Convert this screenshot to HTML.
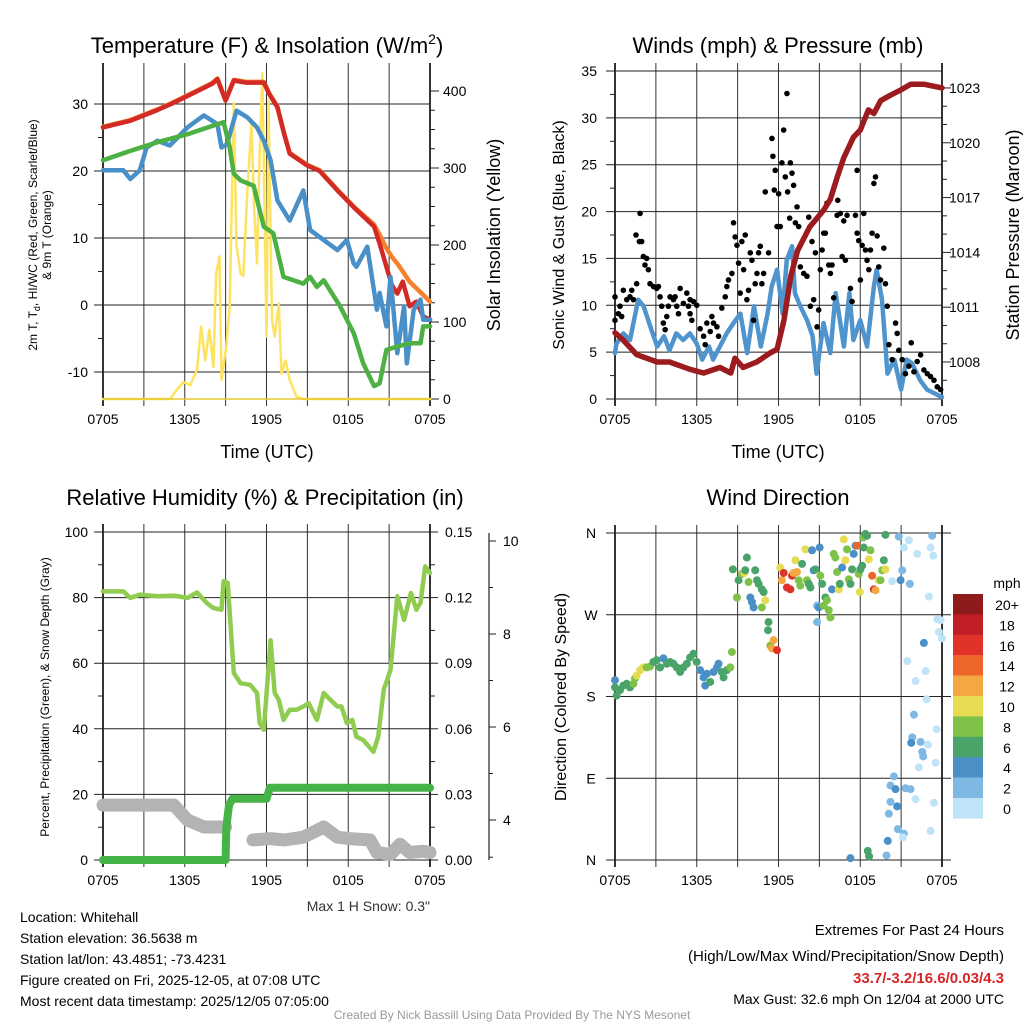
<!DOCTYPE html>
<html><head><meta charset="utf-8"><style>
body{margin:0;background:#fff}
svg{display:block;font-family:"Liberation Sans",sans-serif}
</style></head><body>
<svg id="s" width="1024" height="1024" viewBox="0 0 1024 1024" xmlns="http://www.w3.org/2000/svg">
<rect width="1024" height="1024" fill="#fff"/>
<text x="267" y="53" font-size="22" text-anchor="middle">Temperature (F) &amp; Insolation (W/m<tspan dy="-9" font-size="14">2</tspan><tspan dy="9">)</tspan></text>
<text x="778" y="53" font-size="22" text-anchor="middle">Winds (mph) &amp; Pressure (mb)</text>
<text x="265" y="505" font-size="22" text-anchor="middle">Relative Humidity (%) &amp; Precipitation (in)</text>
<text x="778" y="505" font-size="22" text-anchor="middle">Wind Direction</text>
<text x="267" y="458" font-size="18" text-anchor="middle">Time (UTC)</text>
<text x="778" y="458" font-size="18" text-anchor="middle">Time (UTC)</text>
<text transform="translate(37,235) rotate(-90)" font-size="12" text-anchor="middle">2m T, T<tspan dy="3" font-size="9">d</tspan><tspan dy="-3">, HI/WC (Red, Green, Scarlet/Blue)</tspan></text>
<text transform="translate(51,235) rotate(-90)" font-size="12" text-anchor="middle">&amp; 9m T (Orange)</text>
<text transform="translate(500,235) rotate(-90)" font-size="18" text-anchor="middle">Solar Insolation (Yellow)</text>
<text transform="translate(564,235) rotate(-90)" font-size="16" text-anchor="middle">Sonic Wind &amp; Gust (Blue, Black)</text>
<text transform="translate(1019,235) rotate(-90)" font-size="18" text-anchor="middle">Station Pressure (Maroon)</text>
<text transform="translate(49,697) rotate(-90)" font-size="12" text-anchor="middle">Percent, Precipitation (Green), &amp; Snow Depth (Gray)</text>
<text transform="translate(566,697) rotate(-90)" font-size="16" text-anchor="middle">Direction (Colored By Speed)</text>
<text x="1007" y="588" font-size="14" text-anchor="middle">mph</text>
<text x="430" y="911" font-size="14" text-anchor="end" fill="#333">Max 1 H Snow: 0.3"</text>
<g font-size="14">
<text x="20" y="922">Location: Whitehall</text>
<text x="20" y="943">Station elevation: 36.5638 m</text>
<text x="20" y="964">Station lat/lon: 43.4851; -73.4231</text>
<text x="20" y="985">Figure created on Fri, 2025-12-05, at 07:08 UTC</text>
<text x="20" y="1006">Most recent data timestamp: 2025/12/05 07:05:00</text>
</g>
<g font-size="15" text-anchor="end">
<text x="1004" y="935">Extremes For Past 24 Hours</text>
<text x="1004" y="961">(High/Low/Max Wind/Precipitation/Snow Depth)</text>
<text x="1004" y="983" font-weight="bold" fill="#d62728">33.7/-3.2/16.6/0.03/4.3</text>
<text x="1004" y="1004" font-size="14">Max Gust: 32.6 mph On 12/04 at 2000 UTC</text>
</g>
<text x="512" y="1019" font-size="12" fill="#999" text-anchor="middle">Created By Nick Bassill Using Data Provided By The NYS Mesonet</text>
</svg>
<script>
// ---- data ----
const xTickLabels=['0705','1305','1905','0105','0705'];
const tempTicks=[30,20,10,0,-10];
const solarTicks=[400,300,200,100,0];
const windTicks=[35,30,25,20,15,10,5,0];
const pressTicks=[1023,1020,1017,1014,1011,1008];
const rhTicks=[100,80,60,40,20,0];
const precipTicks=['0.15','0.12','0.09','0.06','0.03','0.00'];
const snowTicks=[10,8,6,4];
const dirTicks=['N','W','S','E','N'];
const speedBins=['20+','18','16','14','12','10','8','6','4','2','0'];

const tempHours=[0,1,2,3,4,5,6,7,8,8.4,9,9.6,10.5,11.8,12.2,12.8,13.3,13.7,15,15.9,17.2,18.4,19.9,20.3,20.8,21.2,21.6,22,22.5,23,23.5,24];
const tempValues=[26.5,27,27.5,28.3,29.1,30,31,32,33,33.7,30.5,33.5,33.2,33.2,31.5,29.5,25.5,22.6,20.8,20,17.1,14.6,11.7,9.2,5.7,3,1.7,3.5,-0.2,0.5,-1.7,-2.2];
const temp9mValues=[26.6,27.1,27.6,28.4,29.2,30.1,31.1,32.1,33.1,33.8,30.6,33.6,33.3,33.3,31.6,29.6,25.6,22.7,20.9,20.1,17.2,14.7,12,10.5,8.5,7.2,6.2,5,3.5,2.5,1.5,0.5];
const dewHours=[0,2,4,6.2,8.85,9.3,9.6,10.1,11.05,11.8,12.5,13.25,14.7,15.2,15.7,16.2,17.4,18.4,19.1,19.9,20.3,20.8,21.6,22.5,23.3,23.5,24];
const dewValues=[21.6,23,24.3,25.5,27.3,23.5,19.6,18.6,17.8,11.7,10.7,4.2,3.2,4.2,2.7,3.7,-0.2,-4.2,-8.7,-12.1,-11.7,-6.7,-6.2,-5.7,-5.7,-3.2,-3.2];
const chillHours=[0,1.5,2,2.7,3.2,4,4.9,6.2,7.4,8.4,8.7,9.1,9.8,10.6,11.3,11.8,12.3,12.8,13.7,14.7,15.2,16.2,17.2,17.9,18.4,18.6,19.4,20.1,20.3,20.8,21.1,21.6,22.1,22.3,22.8,23.3,23.5,24];
const chillValues=[20.1,20.1,18.8,20.1,23.5,24.5,23.8,26.5,28.3,27,23.5,24,29,28,26.5,24.5,21.6,15.6,12.6,17.1,11.2,9.7,8.2,9.7,6.2,5.7,8.7,-0.7,1.8,-3.2,4.2,-7.2,-0.2,-8.7,-0.7,0.8,-2.2,-2.2];
const solarHours=[0,4.94,5.2,5.9,6.4,6.9,7.2,7.5,7.8,8.1,8.3,8.55,8.7,9.05,9.3,9.6,9.8,10.1,10.3,10.6,10.9,11.1,11.3,11.5,11.7,12.0,12.15,12.4,12.6,12.9,13.1,13.4,13.7,14.2,14.7,24];
const solarValues=[0,0,7,22,18,38,94,50,90,42,163,185,25,68,120,384,200,163,160,271,358,245,176,320,423,81,388,102,81,124,33,50,25,3,0,0];

const pressHours=[0,0.6,1.6,3.1,4.0,5.5,6.5,7.7,8.5,8.8,9.4,10.4,11.4,11.9,12.4,12.9,13.4,14.3,15.3,15.8,16.3,16.8,17.5,18.0,18.6,19.0,19.5,20.2,21.0,21.7,22.7,24];
const pressValues=[1009.6,1009.2,1008.4,1008.0,1008.0,1007.6,1007.4,1007.7,1007.4,1008.2,1007.7,1008.0,1008.5,1008.7,1010.3,1012.7,1014.1,1015.4,1016.3,1016.9,1018.1,1019.2,1020.3,1020.7,1021.8,1021.6,1022.3,1022.6,1022.9,1023.2,1023.2,1023.0];
const windHours=[0,0.1,0.6,1.1,1.7,2.1,2.6,3.1,3.6,4.0,4.5,5.0,5.5,6.0,6.4,6.9,7.2,7.7,8.2,8.7,9.2,9.7,10.2,10.7,11.2,11.5,11.9,12.3,12.6,13.0,13.2,13.6,14.1,14.5,14.8,15.3,15.8,16.2,16.8,17.2,17.5,18.0,18.5,19.0,19.2,19.6,20.0,20.5,21.0,21.4,21.8,22.4,22.9,24];
const windValues=[4.9,5.9,7.0,6.3,10.6,9.9,7.7,5.6,6.7,5.2,7.0,6.3,7.0,5.9,4.2,5.6,4.2,5.6,7.0,8.1,9.1,4.9,9.9,5.6,9.1,12.0,13.8,9.1,14.8,16.3,11.3,9.9,8.4,6.7,2.7,8.1,4.9,11.3,5.6,11.3,6.3,8.4,5.6,12.0,13.8,10.6,2.7,4.2,1.0,4.2,3.8,2.0,1.0,0.2];
const gustHours=[0,0,0.25,0.37,0.49,0.61,0.86,1.1,1.23,1.35,1.59,1.54,1.79,1.84,1.96,2.08,2.2,2.33,2.45,2.57,2.82,3.06,3.19,3.31,3.43,3.55,3.68,3.8,3.92,4.04,4.29,4.41,4.53,4.66,4.78,5.02,5.27,5.39,5.51,5.64,5.51,5.76,6.0,6.25,6.5,6.62,6.74,6.99,7.11,7.23,7.48,7.6,7.84,8.09,8.21,8.33,8.58,8.7,8.82,8.95,9.07,9.19,9.31,9.44,9.56,9.68,9.8,9.93,10.05,10.17,10.29,10.42,10.54,10.66,10.78,10.91,11.03,11.27,11.52,11.59,11.69,11.76,11.89,12.01,12.13,12.25,12.38,12.5,12.62,12.67,12.82,12.87,12.99,13.11,13.24,13.36,13.48,13.6,13.85,14.09,14.22,14.34,14.46,14.58,14.71,14.83,14.95,15.07,15.2,15.32,15.44,15.56,15.69,15.81,15.93,16.05,16.3,16.35,16.54,16.67,16.79,16.91,17.03,17.28,17.4,17.65,17.77,17.77,17.89,18.01,18.14,18.26,18.38,18.5,18.63,18.75,18.87,19.0,19.12,19.24,19.36,19.49,19.73,19.85,19.98,20.1,20.34,20.59,20.71,20.83,21.08,21.32,21.57,21.74,21.94,22.18,22.43,22.67,22.92,23.16,23.41,23.65,23.9];
const gustValues=[8.4,10.9,9.1,9.9,8.8,11.6,10.6,10.9,11.6,10.6,12.3,17.5,16.8,19.8,16.8,15.2,14.3,15.0,13.8,12.3,12.0,11.8,12.0,10.9,9.9,8.1,7.4,8.8,9.9,10.9,10.6,10.9,9.9,9.1,11.8,10.2,11.3,9.9,9.1,8.4,10.6,10.4,10.0,7.5,6.7,5.8,8.1,7.2,8.8,8.1,7.7,6.7,9.7,10.9,12.0,12.7,13.4,18.8,17.3,16.4,14.5,11.3,16.8,13.8,17.5,10.6,11.6,15.6,14.8,8.4,12.3,13.4,15.6,16.3,12.3,13.4,22.1,15.6,27.8,25.9,22.3,24.4,18.4,21.9,18.4,25.2,28.7,23.7,32.6,22.1,19.3,25.2,24.1,22.8,18.8,20.5,18.4,14.1,13.4,13.1,19.4,9.9,16.8,10.6,15.6,7.7,9.5,13.8,15.9,17.7,17.7,20.9,14.3,13.4,14.3,10.8,19.6,21.2,19.8,15.2,19.0,14.8,19.6,11.8,10.4,19.6,24.4,17.7,16.9,12.7,16.4,19.8,15.9,14.8,13.8,15.9,17.7,23.0,23.7,17.4,14.1,12.7,16.1,12.3,9.9,5.8,4.2,8.1,7.0,5.2,4.2,2.7,3.5,6.0,2.9,4.0,4.7,3.1,2.7,2.4,2.0,1.3,1.0];

const rhHours=[0,1.5,2,2.7,4,5.2,6.2,6.9,7.6,8.1,8.7,8.85,9.15,9.6,10.1,10.8,11.3,11.5,11.8,12.3,12.6,12.9,13.25,13.7,14.2,14.7,15.1,15.7,16.2,16.7,17.2,17.5,17.9,18.3,18.6,19.1,19.85,20.2,20.6,21.1,21.6,22.1,22.6,23.0,23.3,23.65,24];
const rhValues=[81.9,81.9,79.9,80.9,80.4,80.6,79.9,81.6,78.4,76.8,76.3,85,84.5,57,53.9,53.4,50.9,41.7,39.7,67,50.9,48.8,42.7,45.8,45.8,46.8,47.8,42.7,50.9,48.8,46.8,46.8,41.7,42.7,37.6,36.6,33,37.6,51.9,58,80.4,73.2,81.4,76.3,78.4,89.5,87.5];
const precipHours=[0,9.0,9.05,9.25,9.5,12.0,12.25,24];
const precipValues=[0,0,0.015,0.025,0.028,0.028,0.033,0.033];
const snowHours=[0,1,2,3,4,5.2,6.2,7.4,8.6,9.0];
const snowValues=[4.32,4.32,4.32,4.32,4.32,4.32,4.0,3.85,3.85,3.85];
const snow2Hours=[11.0,12.3,13.3,14.7,16.2,17.2,18.1,19.6,20.1,21.1,21.8,22.5,23.5,24];
const snow2Values=[3.57,3.6,3.57,3.63,3.85,3.63,3.6,3.57,3.3,3.26,3.48,3.3,3.33,3.3];

const dirHours=[
0,0,0.12,0.37,0.61,0.86,1.1,1.35,1.47,1.59,
1.84,2.08,2.33,2.57,2.82,3.06,3.31,3.55,3.8,4.04,
4.29,4.53,4.78,5.02,5.27,5.51,5.76,6.0,6.25,6.5,
6.62,6.74,6.99,7.23,7.48,7.6,7.84,7.97,8.21,8.46,
8.58,8.65,8.95,9.07,9.31,9.49,9.56,9.68,9.8,9.93,
10.05,10.17,10.29,10.42,10.54,10.78,10.91,11.03,10.78,11.27,
11.23,11.4,11.52,11.64,11.89,12.13,12.25,12.38,12.62,12.87,
12.99,13.11,13.24,13.36,13.48,13.6,13.73,13.97,14.09,14.22,
14.34,14.46,14.58,14.71,14.83,14.95,15.02,15.07,15.2,15.32,
15.44,15.56,15.69,15.81,14.83,15.93,16.05,16.18,16.3,16.42,
16.5,16.67,16.79,16.91,17.03,17.16,17.28,17.4,17.52,17.65,
17.77,17.89,17.97,18.01,18.14,18.21,18.26,18.38,18.5,18.63,
18.75,18.87,19.0,19.12,19.36,19.49,19.61,19.73,19.85,19.85,
20.34,20.83,21.08,20.96,21.2,21.57,21.64,22.18,23.04,23.16,
23.28,23.36,23.65,23.9,23.77,24.0,22.67,21.45,22.06,22.8,
22.87,21.94,21.82,21.74,22.43,22.55,22.62,22.97,23.6,22.3,
23.53,20.47,20.22,20.59,21.32,21.69,22.06,23.41,20.22,20.71,
20.1,20.76,21.2,21.13,23.16,20.02,19.93,17.28,18.55,18.65];
const dirValues=[
198,190,181,187,192,194,190,194,200,203,
209,212,212,213,218,220,212,222,216,218,
216,212,207,212,216,223,227,218,209,201,
192,205,196,207,212,216,207,201,209,212,
229,320,289,308,315,316,319,333,306,289,
284,278,319,308,304,298,295,286,278,262,
253,236,233,242,231,322,308,316,300,298,
313,316,330,317,308,302,326,342,308,304,
300,341,319,320,280,278,344,313,304,280,
289,286,275,267,262,298,337,333,317,298,
304,322,353,330,342,309,304,320,337,346,
346,315,295,320,324,355,344,359,357,331,
341,313,298,297,308,308,319,330,358,320,
307,356,319,308,344,352,304,337,290,344,
357,335,265,264,251,244,239,219,197,208,
177,160,135,129,130,119,114,127,144,102,
107,92,82,78,79,78,67,63,64,59,
51,34,29,25,32,21,5,2,10,4];
const dirSpeeds=[
4,6,6,6,6,6,6,8,8,10,
10,10,8,8,6,6,6,4,6,6,
6,6,6,6,6,6,6,6,4,4,
4,4,6,4,4,4,6,6,6,8,
8,6,8,6,8,10,6,6,8,4,
4,4,6,6,6,6,6,10,8,6,
6,8,12,12,16,10,12,16,16,16,
16,12,10,12,8,8,6,10,8,6,
6,4,4,6,2,4,4,8,6,8,
6,8,8,8,2,4,8,8,8,10,
6,4,10,10,8,8,6,6,4,4,
14,8,10,6,6,8,6,6,6,10,
8,14,16,12,10,8,8,6,6,10,
0,2,2,4,0,0,2,0,0,0,
2,0,0,0,0,0,4,0,0,0,
0,2,2,4,2,2,2,0,0,0,
0,2,2,4,2,2,0,0,2,4,
2,2,2,0,0,4,2,4,6,6];
</script>
<script>
const NS='http://www.w3.org/2000/svg';
const svg=document.getElementById('s');
function mk(tag,attrs,parent){const e=document.createElementNS(NS,tag);for(const k in attrs)e.setAttribute(k,attrs[k]);(parent||svg).appendChild(e);return e;}
const P1={l:103,r:430,t:71,b:399};
const P2={l:615,r:942,t:71,b:399};
const P3={l:103,r:430,t:532,b:860};
const P4={l:615,r:942,t:533,b:860};
function xs(P){return h=>P.l+h*(P.r-P.l)/24;}
const x1=xs(P1),x2=xs(P2),x3=xs(P3),x4=xs(P4);
const yT=t=>305-t*6.7, yW=w=>399-w*0.77;
const yS=v=>399-v*(328/35), yP=p=>362-(p-1008)*18.27;
const yR=r=>860-r*3.28, yPr=p=>860-p*(328/0.15), ySn=s=>820-(s-4)*46.5;
const yD=d=>860-d*(327/360);

function frame(P,name){
  const g=mk('g',{});
  
  
  for(let i=0;i<=8;i++){
    const x=P.l+i*(P.r-P.l)/8;
    const ln=mk('line',{x1:x,x2:x,y1:P.t-8,y2:P.b+7,stroke:(i==0||i==8)?'#000':'#333','stroke-width':(i==0||i==8)?1.6:1},g);
    
    
    if(i%2==0){
      const t=mk('text',{x:x,y:P.b+25,'font-size':14,'text-anchor':'middle'},g);
      t.textContent=xTickLabels[i/2];
      
      
    }
  }
  return g;
}
function hline(g,P,y,name,major){
  const ln=mk('line',{x1:major?P.l-9:P.l-5,x2:major?P.r:P.l,y1:y,y2:y,stroke:'#222','stroke-width':1},g);
  
  
}
function label(g,x,y,txt,anchor,name,size){
  const t=mk('text',{x:x,y:y+5,'font-size':size||14,'text-anchor':anchor},g);
  t.textContent=txt;
  
  
}
function rtick(g,x,y,len,name){
  const ln=mk('line',{x1:x,x2:x+len,y1:y,y2:y,stroke:'#222','stroke-width':1},g);
  
  
}
function poly(hs,vs,fx,fy,color,w,name){
  const pts=hs.map((h,i)=>fx(h).toFixed(1)+','+fy(vs[i]).toFixed(1)).join(' ');
  const p=mk('polyline',{points:pts,fill:'none',stroke:color,'stroke-width':w,'stroke-linejoin':'round','stroke-linecap':'round'});
  
  
  return p;
}

// ---- Panel 1 ----
let g=frame(P1,'temp');
tempTicks.forEach(t=>{hline(g,P1,yT(t),'temp-y-gridline',true);label(g,88,yT(t),String(t),'end','temp-y-tick-label');});
[25,15,5,-5].forEach(t=>hline(g,P1,yT(t),'temp-y-minor-tick',false));
solarTicks.forEach(w=>{rtick(g,P1.r,yW(w),9,'solar-y-tick');label(g,443,yW(w),String(w),'start','solar-y-tick-label');});
for(let w=25;w<420;w+=25){if(w%100)rtick(g,P1.r,yW(w),5,'solar-minor-tick');}
poly(solarHours,solarValues,x1,yW,'#fde35f',2.5,'solar-line');
poly(tempHours,temp9mValues,x1,yT,'#f5812f',4.5,'temp-9m-line');
poly(tempHours,tempValues,x1,yT,'#d42a26',4.5,'temp-2m-line');
poly(chillHours,chillValues,x1,yT,'#4a90c8',4.5,'heat-index-windchill-line');
poly(dewHours,dewValues,x1,yT,'#4cb043',4.5,'dewpoint-line');
let b=mk('line',{x1:P1.l,x2:P1.r,y1:P1.b,y2:P1.b,stroke:'#e8c830','stroke-width':1.5});



// ---- Panel 2 ----
g=frame(P2,'wind');
windTicks.forEach(v=>{hline(g,P2,yS(v),'wind-y-gridline',true);label(g,597,yS(v),String(v),'end','wind-y-tick-label');});
[2.5,7.5,12.5,17.5,22.5,27.5,32.5].forEach(v=>hline(g,P2,yS(v),'wind-y-minor-tick',false));
pressTicks.forEach(p=>{rtick(g,P2.r,yP(p),9,'pressure-y-tick');label(g,949,yP(p),String(p),'start','pressure-y-tick-label');});
for(let p=1007;p<=1023.5;p+=1){if((p-1008)%3)rtick(g,P2.r,yP(p),5,'pressure-minor-tick');}
poly(windHours,windValues,x2,yS,'#4f94cd',4.5,'sonic-wind-line');
gustHours.forEach((h,i)=>{
  if(gustValues[i]===undefined)return;
  const c=mk('circle',{cx:x2(h),cy:yS(gustValues[i]),r:2.8,fill:'#000'});
  
  
});
poly(pressHours,pressValues,x2,yP,'#9b1b1e',5.5,'pressure-line');

// ---- Panel 3 ----
g=frame(P3,'humidity');
rhTicks.forEach((r,i)=>{hline(g,P3,yR(r),'humidity-y-gridline',true);label(g,88,yR(r),String(r),'end','humidity-y-tick-label');rtick(g,P3.r,yR(r),8,'precip-y-tick');label(g,445,yR(r),precipTicks[i],'start','precip-y-tick-label');});
[10,30,50,70,90].forEach(r=>{hline(g,P3,yR(r),'humidity-y-minor-tick',false);rtick(g,P3.r,yR(r),5,'precip-minor-tick');});
let sa=mk('line',{x1:489,x2:489,y1:533,y2:860,stroke:'#222','stroke-width':1.2});


snowTicks.forEach(s=>{rtick(g,489,ySn(s),7,'snow-y-tick');label(g,503,ySn(s),String(s),'start','snow-y-tick-label');});
[9,7,5,3.2].forEach(s=>rtick(g,489,ySn(s),4,'snow-minor-tick'));
poly(snowHours,snowValues,x3,ySn,'#b3b3b3',13,'snow-depth-line-1');
poly(snow2Hours,snow2Values,x3,ySn,'#b3b3b3',13,'snow-depth-line-2');
poly(rhHours,rhValues,x3,yR,'#8fcc50',4.5,'humidity-line');
poly(precipHours,precipValues,x3,yPr,'#45b345',8,'precip-line');

// ---- Panel 4 ----
g=frame(P4,'direction');
dirTicks.forEach((d,i)=>{const y=P4.t+i*(P4.b-P4.t)/4;hline(g,P4,y,'direction-y-gridline',true);
  const ln=mk('line',{x1:P4.r,x2:P4.r+9,y1:y,y2:y,stroke:'#222'},g);
  
  
  label(g,591,y,d,'middle','direction-y-tick-label');});
const binColors=['#8e1a1c','#c01f26','#e03228','#ee6529','#f5a842','#e5dc52','#7fc24a','#4aa46a','#4a8fc5','#7fb9e3','#bfe4f8'];
function speedColor(s){const idx=Math.max(0,Math.min(10,10-Math.floor((s||0)/2)));return binColors[idx];}
dirHours.forEach((h,i)=>{
  if(dirValues[i]===undefined)return;
  const c=mk('circle',{cx:x4(h),cy:yD(dirValues[i]),r:4,fill:speedColor(dirSpeeds[i])});
  
  
});
speedBins.forEach((lab,i)=>{
  const y=594+i*20.4;
  const r=mk('rect',{x:953,y:y,width:30,height:20.6,fill:binColors[i]});
  
  
  const t=mk('text',{x:1007,y:y+16,'font-size':14,'text-anchor':'middle'});
  t.textContent=lab;
  
  
});
</script>
</body></html>
